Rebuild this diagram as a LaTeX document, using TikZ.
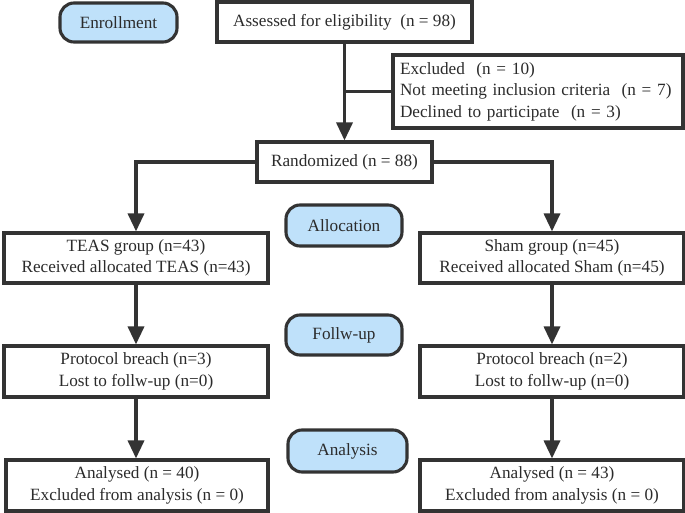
\documentclass[tikz,border=0pt]{standalone}
\usepackage{fontspec}
\setmainfont{Liberation Serif}
\usetikzlibrary{arrows.meta}
\definecolor{ln}{HTML}{333333}
\definecolor{pill}{HTML}{BFE1FA}
\begin{document}
\begin{tikzpicture}[x=1pt,y=-1pt,
  every node/.style={font=\fontsize{17.2}{21.5}\selectfont, text=ln!85!black},
  box/.style={draw=ln, line width=3.1pt, rectangle, inner sep=0pt, align=center},
  pillbox/.style={draw=ln, line width=3.1pt, fill=pill, rounded corners=14pt, inner sep=0pt, align=center},
  conn/.style={draw=ln, line width=3.4pt},
  arr/.style={conn, -{Triangle[length=18pt,width=16pt]}}]
\useasboundingbox (0,0) rectangle (685,513);
% stage labels
\node[pillbox, minimum width=117pt, minimum height=39pt] (enr) at (118.5,22.5) {Enrollment};
\node[pillbox, minimum width=116pt, minimum height=41pt] (alloc) at (344,225.5) {Allocation};
\node[pillbox, minimum width=116pt, minimum height=40pt] (fup) at (344,335) {Follw-up};
\node[pillbox, minimum width=119pt, minimum height=42pt] (ana) at (347.5,451) {Analysis};
% boxes
\node[box, minimum width=255pt, minimum height=40pt] (assess) at (344.5,22) {Assessed for eligibility\ \ (n = 98)};
\node[box, minimum width=290pt, minimum height=73pt, align=left, text width=276pt] (excl) at (538,91.5)
  {Excluded\ \ (n = 10)\\Not meeting inclusion criteria\ \ (n = 7)\\Declined to participate\ \ (n = 3)};
\node[box, minimum width=175pt, minimum height=40pt] (rand) at (344.5,162) {Randomized (n = 88)};
\node[box, minimum width=264pt, minimum height=50pt] (teas) at (136,258) {TEAS group (n=43)\\Received allocated TEAS (n=43)};
\node[box, minimum width=264pt, minimum height=50pt] (sham) at (552,258) {Sham group (n=45)\\Received allocated Sham (n=45)};
\node[box, minimum width=264pt, minimum height=51pt] (protl) at (136,371.5) {Protocol breach (n=3)\\Lost to follw-up (n=0)};
\node[box, minimum width=264pt, minimum height=51pt] (protr) at (552,371.5) {Protocol breach (n=2)\\Lost to follw-up (n=0)};
\node[box, minimum width=262pt, minimum height=51pt] (anal) at (137,485.5) {Analysed (n = 40)\\Excluded from analysis (n = 0)};
\node[box, minimum width=264pt, minimum height=51pt] (anar) at (552,485.5) {Analysed (n = 43)\\Excluded from analysis (n = 0)};
% connectors
\draw[arr] (assess.south) -- (rand.north);
\draw[conn] (assess.south |- excl.west) -- (excl.west);
\draw[arr] (rand.west) -| (teas.north);
\draw[arr] (rand.east) -| (sham.north);
\draw[arr] (teas.south) -- (protl.north);
\draw[arr] (sham.south) -- (protr.north);
\draw[arr] (protl.south) -- (protl.south |- anal.north);
\draw[arr] (protr.south) -- (anar.north);
\end{tikzpicture}
\end{document}
